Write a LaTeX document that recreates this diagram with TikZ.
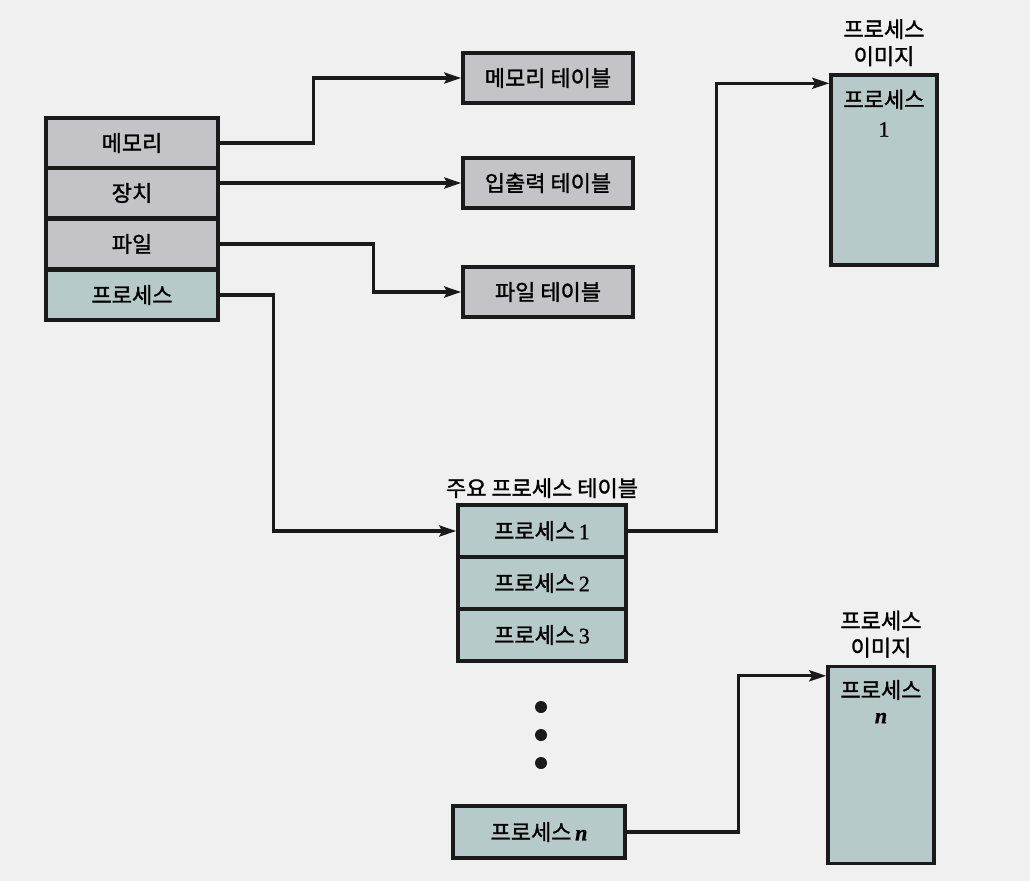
\documentclass[tikz,border=0pt]{standalone}
\usepackage{fontspec}
\setmainfont{Liberation Serif}[FakeBold=1]
\newfontfamily\kr{Noto Sans CJK KR}[FakeBold=1.4]
\usepackage{tikz}
\usetikzlibrary{arrows.meta,positioning,calc}
\definecolor{paper}{HTML}{F1F0F1}
\definecolor{res}{HTML}{C4C4C8}
\definecolor{prc}{HTML}{B6CBC9}
\definecolor{ink}{HTML}{1A1A1A}
\tikzset{
  cell/.style={draw=ink, line width=3.4pt, fill=res, minimum width=172pt, minimum height=50pt, inner sep=0pt, font=\kr\fontsize{22}{27}\selectfont},
  tbl/.style={cell, minimum width=170pt},
  row/.style={cell, fill=prc, minimum width=168pt, minimum height=52pt},
  imgbox/.style={draw=ink, line width=3.4pt, fill=prc, minimum width=106pt, inner sep=0pt},
  caption/.style={align=center, inner sep=1pt, font=\kr\fontsize{22}{27}\selectfont},
  link/.style={draw=ink, line width=3.2pt, -{Stealth[length=17pt, width=11pt, inset=3pt]}},
  dot/.style={circle, fill=ink, inner sep=0pt, minimum size=12pt},
}
\newcommand{\num}[1]{\,{\rmfamily #1}}
\begin{document}
\begin{tikzpicture}[x=1pt,y=-1pt]
  \fill[paper] (0,0) rectangle (1030,881);
  \useasboundingbox (0,0) rectangle (1030,881);
  % resource stack
  \foreach \y/\name/\txt/\col in {143/mem/메모리/res, 193/dev/장치/res, 244/fil/파일/res, 295/prc/프로세스/prc}
    \node[cell, fill=\col] (\name) at (132,\y) {\txt};
  % tables
  \node[tbl] (memtab) at (548,78) {메모리 테이블};
  \node[tbl] (iotab) at (548,183) {입출력 테이블};
  \node[tbl] (filtab) at (548,292) {파일 테이블};
  % primary process table
  \node[row] (p1) at (542,531) {프로세스\num{1}};
  \node[row] (p2) at (542,583) {프로세스\num{2}};
  \node[row] (p3) at (542,635) {프로세스\num{3}};
  \node[caption, above=4pt of p1] (ptitle) {주요 프로세스 테이블};
  \node[dot] (d1) at (541,707) {};
  \node[dot] (d2) at (541,735) {};
  \node[dot] (d3) at (541,763) {};
  \node[row, minimum width=172pt] (pn) at (539,832) {프로세스\num{\bfseries\itshape n}};
  % process images
  \node[imgbox, minimum height=190pt] (img1) at (884,170) {};
  \node[caption, below=15pt of img1.north] (img1t) {프로세스\\[2pt]{\rmfamily 1}};
  \node[caption, above=6pt of img1] (img1c) {프로세스\\이미지};
  \node[imgbox, minimum height=197pt] (imgn) at (881,765) {};
  \node[caption, below=14pt of imgn.north] (imgnt) {프로세스\\[-2pt]{\rmfamily\bfseries\itshape n}};
  \node[caption, above=6pt of imgn] (imgnc) {프로세스\\이미지};
  \coordinate (in1) at ($(img1.north west)+(0,10)$);
  \coordinate (inn) at ($(imgn.north west)+(0,11)$);
  % links
  \draw[link] (mem.east) -- ++(94,0) |- (memtab.west);
  \draw[link] (dev.east |- iotab.west) -- (iotab.west);
  \draw[link] (fil.east) -- ++(154,0) |- (filtab.west);
  \draw[link] (prc.east) -- ++(54,0) |- (p1.west);
  \draw[link] (p1.east) -- ++(89,0) |- (in1);
  \draw[link] (pn.east) -- ++(112,0) |- (inn);
\end{tikzpicture}
\end{document}
